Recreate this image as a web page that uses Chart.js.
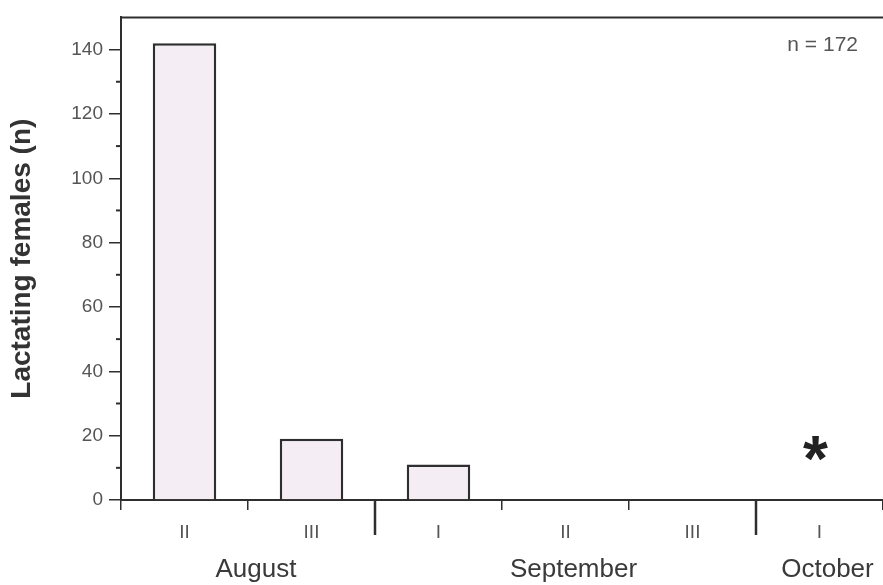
<!DOCTYPE html>
<html>
<head>
<meta charset="utf-8">
<script src="https://cdn.jsdelivr.net/npm/chart.js@4.4.1/dist/chart.umd.min.js"></script>
<style>
  html, body { margin: 0; padding: 0; background: #fff; }
  #wrap { width: 883px; height: 585px; }
</style>
</head>
<body>
<div id="wrap"><canvas id="lactation"></canvas></div>
<script>
// ten-day periods (decades) of each month
var decades = ['II', 'III', 'I', 'II', 'III', 'I'];
var lactating = [142, 19, 11, 0, 0, 0];
var months = [
  { name: 'August', first: 0, last: 1 },
  { name: 'September', first: 2, last: 4 },
  { name: 'October', first: 5, last: 5 }
];
var yTicks = [0, 20, 40, 60, 80, 100, 120, 140];
var yMinor = [10, 30, 50, 70, 90, 110, 130];
var starredDecade = 5;
var sampleSize = 'n = 172';

var ink = '#2e2e2e';
var fontFamily = '"Liberation Sans", Arial, sans-serif';

var extras = {
  id: 'extras',
  afterDraw: function(chart) {
    var ctx = chart.ctx, area = chart.chartArea;
    var xs = chart.scales.x, ys = chart.scales.y;
    ctx.save();
    ctx.strokeStyle = ink;
    ctx.lineWidth = 2;

    // frame line along the top
    ctx.beginPath();
    ctx.moveTo(area.left - 1, area.top);
    ctx.lineTo(area.right, area.top);
    ctx.stroke();

    // short minor ticks on the y axis
    yMinor.forEach(function(v) {
      var y = ys.getPixelForValue(v);
      ctx.beginPath();
      ctx.moveTo(area.left - 5, y);
      ctx.lineTo(area.left, y);
      ctx.stroke();
    });

    // long separators between months, month names below
    ctx.fillStyle = '#3a3a3a';
    ctx.font = '26px ' + fontFamily;
    ctx.textAlign = 'center';
    ctx.textBaseline = 'alphabetic';
    months.forEach(function(m, i) {
      var x0 = xs.getPixelForValue(m.first);
      var x1 = xs.getPixelForValue(m.last);
      ctx.fillText(m.name, (x0 + x1) / 2 + 8, area.bottom + 77);
      if (i > 0) {
        var sep = (xs.getPixelForValue(m.first - 1) + x0) / 2;
        ctx.lineWidth = 2.5;
        ctx.beginPath();
        ctx.moveTo(sep, area.bottom);
        ctx.lineTo(sep, area.bottom + 35);
        ctx.stroke();
      }
    });

    // sample size
    ctx.font = '21px ' + fontFamily;
    ctx.fillStyle = '#555';
    ctx.textAlign = 'right';
    ctx.fillText(sampleSize, area.right - 25, area.top + 34);

    // asterisk over the last decade
    ctx.font = 'bold 64px ' + fontFamily;
    ctx.fillStyle = '#222';
    ctx.textAlign = 'center';
    ctx.fillText('*', xs.getPixelForValue(starredDecade) - 4, ys.getPixelForValue(0) - 19);
    ctx.restore();
  }
};

new Chart(document.getElementById('lactation'), {
  type: 'bar',
  data: {
    labels: decades,
    datasets: [{
      data: lactating,
      backgroundColor: '#f4eef4',
      borderColor: ink,
      borderWidth: 2.5,
      categoryPercentage: 1,
      barPercentage: 0.5
    }]
  },
  options: {
    responsive: true,
    maintainAspectRatio: false,
    animation: false,
    layout: { padding: { top: 17, right: 0, left: 0, bottom: 0 } },
    plugins: { legend: { display: false }, tooltip: { enabled: false } },
    scales: {
      x: {
        grid: { display: true, offset: true, drawOnChartArea: false, tickLength: 10, color: ink, lineWidth: 1.5 },
        border: { display: true, color: ink, width: 2 },
        ticks: { color: '#555', font: { family: fontFamily, size: 19 }, padding: 11, maxRotation: 0 },
        afterFit: function(scale) { scale.height = 85; }
      },
      y: {
        min: 0,
        max: 150,
        afterBuildTicks: function(scale) {
          scale.ticks = yTicks.map(function(v) { return { value: v }; });
        },
        grid: { display: true, drawOnChartArea: false, tickLength: 12, color: ink, lineWidth: 1.5 },
        border: { display: true, color: ink, width: 2 },
        ticks: { color: '#555', font: { family: fontFamily, size: 19 }, padding: 6 },
        title: {
          display: true,
          text: 'Lactating females (n)',
          color: '#333',
          font: { family: fontFamily, size: 28, weight: 'bold' },
          padding: { top: 5, bottom: 0 }
        },
        afterFit: function(scale) { scale.width = 121; }
      }
    }
  },
  plugins: [extras]
});
</script>
</body>
</html>
